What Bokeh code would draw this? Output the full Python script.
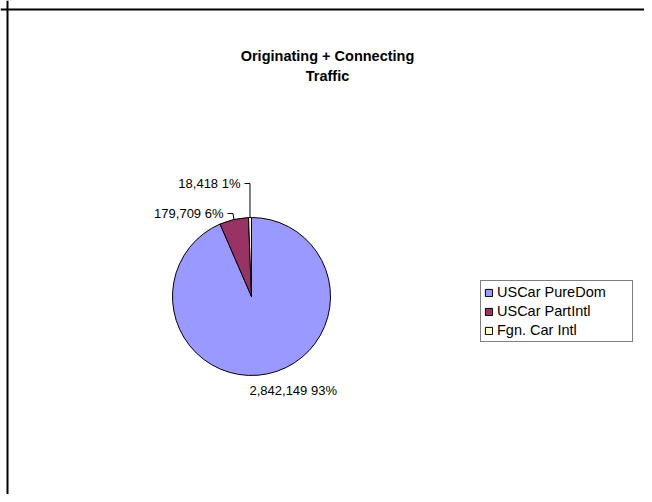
import math
from bokeh.plotting import figure
from bokeh.models import Range1d, Span, Label, Legend, LegendItem, ColumnDataSource
from bokeh.embed import file_html
from bokeh.resources import INLINE

# ---- data ----
title_lines = ["Originating + Connecting", "Traffic"]
categories = ["USCar PureDom", "USCar PartIntl", "Fgn. Car Intl"]
values = [2842149, 179709, 18418]
colors = ["#9999FF", "#993366", "#FFFFCC"]

FONT = "Liberation Sans"
W, H = 644, 494

p = figure(width=W, height=H, output_backend="svg", toolbar_location=None,
           x_range=Range1d(0, W), y_range=Range1d(0, H), min_border=0)
p.axis.visible = False
p.grid.visible = False
p.outline_line_color = None
p.background_fill_color = "white"
p.border_fill_color = "white"

# chart frame (top and left edges visible, the rest is cut off)
p.add_layout(Span(location=H - 9, dimension="width", line_color="black", line_width=2))
p.add_layout(Span(location=7, dimension="height", line_color="black", line_width=2))

# title
for i, t in enumerate(title_lines):
    p.add_layout(Label(x=327, y=439 - 20 * i, text=t, text_align="center",
                       text_baseline="middle", text_font=FONT, text_color="black",
                       text_font_style="bold", text_font_size="14.5px"))

# pie
total = sum(values)
fracs = [v / total for v in values]
cum = [0.0]
for f in fracs:
    cum.append(cum[-1] + f)
start = [math.pi / 2 - 2 * math.pi * c for c in cum[:-1]]
end = [math.pi / 2 - 2 * math.pi * c for c in cum[1:]]
cx, cy, r = 251, 198, 79
src = ColumnDataSource(dict(cat=categories, val=values, color=colors,
                            start=start, end=end))
wr = p.wedge(x=cx, y=cy, radius=r, start_angle="start", end_angle="end",
             direction="clock", fill_color="color", line_color="black",
             line_width=1, source=src)

# labels
def fmt(v, f):
    return f"{v:,} {round(f * 100):d}%"

mids = [(cum[i] + cum[i + 1]) / 2 for i in range(len(values))]
edge = [(cx + r * math.sin(2 * math.pi * m), cy + r * math.cos(2 * math.pi * m)) for m in mids]

# slice 0: below the pie, no leader
p.add_layout(Label(x=249, y=104, text=fmt(values[0], fracs[0]), text_align="left",
                   text_baseline="middle", text_font=FONT, text_color="black",
                   text_font_size="13px"))
# slice 1 with leader
lx1, ly1 = 223, 281
p.add_layout(Label(x=lx1, y=ly1, text=fmt(values[1], fracs[1]), text_align="right",
                   text_baseline="middle", text_font=FONT, text_color="black",
                   text_font_size="13px"))
p.line(x=[lx1 + 4, edge[1][0] - 1, edge[1][0]], y=[ly1, ly1, edge[1][1]],
       line_color="black", line_width=1)
# slice 2 with leader
lx2, ly2 = 240, 311
p.add_layout(Label(x=lx2, y=ly2, text=fmt(values[2], fracs[2]), text_align="right",
                   text_baseline="middle", text_font=FONT, text_color="black",
                   text_font_size="13px"))
p.line(x=[lx2 + 4, edge[2][0], edge[2][0]], y=[ly2, ly2, edge[2][1]],
       line_color="black", line_width=1)

# legend
items = [LegendItem(label=c, renderers=[wr], index=i) for i, c in enumerate(categories)]
legend = Legend(items=items, location=(480, 152), orientation="vertical",
                border_line_color="black", border_line_width=1,
                background_fill_color="white", background_fill_alpha=1,
                label_text_font=FONT, label_text_font_size="14.5px",
                label_text_color="black",
                glyph_width=9, glyph_height=9, label_height=15, label_standoff=4,
                label_width=132, spacing=3, padding=3, margin=0)
p.add_layout(legend, "center")

open("out.html", "w").write(file_html(p, INLINE))
